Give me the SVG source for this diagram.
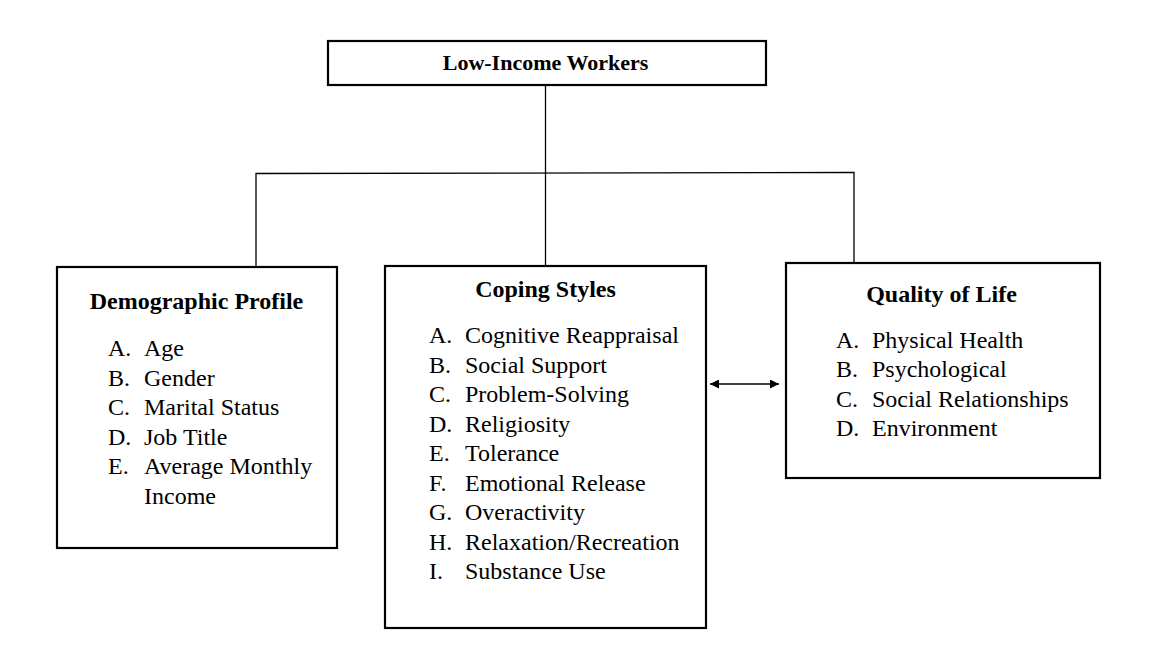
<svg xmlns="http://www.w3.org/2000/svg" width="1151" height="665" viewBox="0 0 1151 665">
<style>
.box{fill:#fff;stroke:#000;stroke-width:2.2}
.ln{fill:none;stroke:#000;stroke-width:1.3}
text{font-family:"Liberation Serif","Times New Roman",serif;fill:#000;font-size:24px}
.h{font-weight:bold;text-anchor:middle}
.t{font-weight:bold;text-anchor:middle;font-size:22px}
</style>
<defs>
<marker id="ah" viewBox="0 0 10 10" refX="10" refY="5" markerWidth="10" markerHeight="9" markerUnits="userSpaceOnUse" orient="auto-start-reverse">
<path d="M0,0 L10,5 L0,10 Z" fill="#000"/>
</marker>
</defs>
<rect width="1151" height="665" fill="#fff"/>
<g id="connectors">
<line class="ln" x1="545.5" y1="85" x2="545.5" y2="266"/>
<polyline class="ln" points="256,267 256,173.5 854,172.5 854,263"/>
<line class="ln" x1="710" y1="384" x2="779" y2="384" marker-start="url(#ah)" marker-end="url(#ah)"/>
</g>
<g id="low-income-workers">
<rect class="box" x="328" y="41" width="438" height="44"/>
<text class="t" x="545.5" y="70">Low-Income Workers</text>
</g>
<g id="demographic-profile">
<rect class="box" x="57" y="267" width="280" height="281"/>
<text class="h" x="196.5" y="309">Demographic Profile</text>
<text x="108" y="356">A.</text><text x="144" y="356">Age</text>
<text x="108" y="385.5">B.</text><text x="144" y="385.5">Gender</text>
<text x="108" y="415">C.</text><text x="144" y="415">Marital Status</text>
<text x="108" y="444.5">D.</text><text x="144" y="444.5">Job Title</text>
<text x="108" y="474">E.</text><text x="144" y="474">Average Monthly</text>
<text x="144" y="503.5">Income</text>
</g>
<g id="coping-styles">
<rect class="box" x="385" y="266" width="321" height="362"/>
<text class="h" x="545.5" y="297">Coping Styles</text>
<text x="429" y="343">A.</text><text x="465" y="343">Cognitive Reappraisal</text>
<text x="429" y="372.5">B.</text><text x="465" y="372.5">Social Support</text>
<text x="429" y="402">C.</text><text x="465" y="402">Problem-Solving</text>
<text x="429" y="431.5">D.</text><text x="465" y="431.5">Religiosity</text>
<text x="429" y="461">E.</text><text x="465" y="461">Tolerance</text>
<text x="429" y="490.5">F.</text><text x="465" y="490.5">Emotional Release</text>
<text x="429" y="520">G.</text><text x="465" y="520">Overactivity</text>
<text x="429" y="549.5">H.</text><text x="465" y="549.5">Relaxation/Recreation</text>
<text x="429" y="579">I.</text><text x="465" y="579">Substance Use</text>
</g>
<g id="quality-of-life">
<rect class="box" x="786" y="263" width="314" height="215"/>
<text class="h" x="941.5" y="302">Quality of Life</text>
<text x="836" y="347.5">A.</text><text x="872" y="347.5">Physical Health</text>
<text x="836" y="377">B.</text><text x="872" y="377">Psychological</text>
<text x="836" y="406.5">C.</text><text x="872" y="406.5">Social Relationships</text>
<text x="836" y="436">D.</text><text x="872" y="436">Environment</text>
</g>
</svg>
